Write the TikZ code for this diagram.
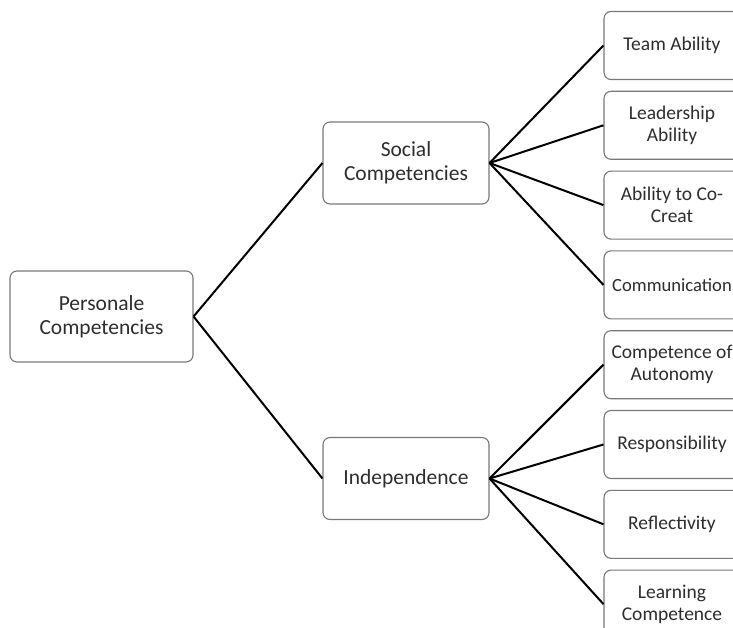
\documentclass[tikz,border=0pt]{standalone}
\usepackage{fontspec}
\setmainfont{Carlito}
\usetikzlibrary{positioning}
\definecolor{boxgray}{RGB}{120,120,120}
\definecolor{textgray}{RGB}{45,45,45}
\tikzset{
  mainbox/.style={rectangle,rounded corners=7pt,draw=boxgray,line width=1.1pt,
    fill=white,text=textgray,align=center,font=\fontsize{21.5}{24}\selectfont,
    minimum width=183pt,minimum height=91pt,inner sep=1pt},
  groupbox/.style={mainbox,minimum width=166pt,minimum height=82pt},
  leafbox/.style={mainbox,font=\fontsize{19.5}{22}\selectfont,
    minimum width=136pt,minimum height=68pt},
  link/.style={draw=black,line width=2pt},
}

\begin{document}
\begin{tikzpicture}[x=1pt,y=-1pt,node distance=10.7pt]
  \useasboundingbox (0,0) rectangle (733,628);
  \clip (0,0) rectangle (733,628);
  \node[mainbox] (pc) at (101.5,316.5) {Personale\\Competencies};
  \node[groupbox] (sc) at (406,163) {Social\\Competencies};
  \node[groupbox] (in) at (406,478.5) {Independence};
  % Social competencies
  \node[leafbox] (ta) at (672,45.5) {Team Ability};
  \node[leafbox,below=of ta] (la) {Leadership\\Ability};
  \node[leafbox,below=of la] (cc) {Ability to Co-\\Creat};
  \node[leafbox,below=of cc,font=\fontsize{18.6}{22}\selectfont] (cm) {Communication};
  % Independence
  \node[leafbox,below=of cm] (ca) {Competence of\\Autonomy};
  \node[leafbox,below=of ca] (re) {Responsibility};
  \node[leafbox,below=of re] (rf) {Reflectivity};
  \node[leafbox,below=of rf] (lc) {Learning\\Competence};
  \draw[link] (pc.east) -- (sc.west);
  \draw[link] (pc.east) -- (in.west);
  \foreach \b in {ta,la,cc,cm}{\draw[link] (sc.east) -- (\b.west);}
  \foreach \b in {ca,re,rf,lc}{\draw[link] (in.east) -- (\b.west);}
\end{tikzpicture}
\end{document}
